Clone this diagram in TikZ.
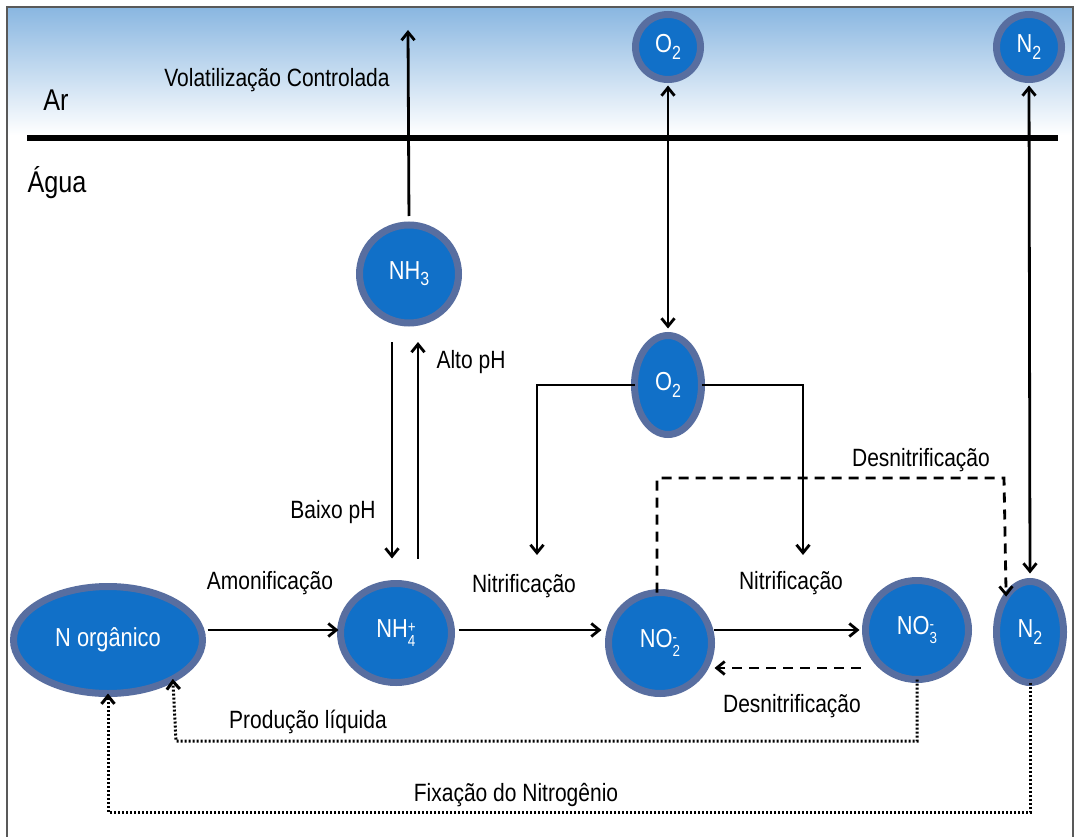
\documentclass[tikz,border=0pt]{standalone}
\usepackage{fontspec}
\setmainfont{Liberation Sans}[FakeStretch=0.84]
\usetikzlibrary{arrows.meta,shapes.geometric,calc}
\definecolor{nodefill}{RGB}{17,112,200}
\definecolor{nodeedge}{RGB}{88,110,160}
\definecolor{skytop}{RGB}{138,183,225}
\newcommand{\sbsp}[2]{\raisebox{-0.7ex}{\fontsize{16}{16}\selectfont\shortstack[l]{#2\\#1}}}
\newcommand{\sub}[1]{\raisebox{-0.45ex}{\fontsize{19}{19}\selectfont #1}}
\begin{document}
\begin{tikzpicture}[x=1pt,y=-1pt,
  mol/.style={ellipse,draw=nodeedge,line width=7pt,fill=nodefill,text=white,
    inner sep=0pt,outer sep=0pt,font=\fontsize{26}{30}\selectfont},
  lbl/.style={inner sep=0pt,font=\fontsize{25}{30}\selectfont},
  big/.style={inner sep=0pt,font=\fontsize{30}{34}\selectfont},
  tip/.style={-{Straight Barb[length=8pt,width=13pt]}},
  conn/.style={line width=2.8pt,tip},
  both/.style={line width=2.8pt,{Straight Barb[length=8pt,width=13pt]}-{Straight Barb[length=8pt,width=13pt]}},
  dsh/.style={line width=2.8pt,dash pattern=on 10pt off 7pt},
  dot/.style={line width=3pt,dash pattern=on 2pt off 2pt}
]
\useasboundingbox (0,0) rectangle (1078,837);
\fill[white] (0,0) rectangle (1078,837);
\shade[top color=skytop,bottom color=white] (8,8) rectangle (1072,135);
\draw[gray!70!black,line width=1.2pt] (7,845) -- (7,7) -- (1073,7) -- (1073,845);
\draw[line width=6pt] (27,138) -- (1058,138);

\node[big] (ar) at (56,100) {Ar};
\node[big] (agua) at (57,183) {Água};

% molecules
\node[mol,minimum width=65pt,minimum height=65pt] (o2a) at (668,47) {O\sub{2}};
\node[mol,minimum width=65pt,minimum height=65pt] (n2a) at (1029,47) {N\sub{2}};
\node[mol,minimum width=99pt,minimum height=98pt] (nh3) at (409,274) {NH\sub{3}};
\node[mol,minimum width=67pt,minimum height=99pt] (o2b) at (668,385) {O\sub{2}};
\node[mol,minimum width=189pt,minimum height=107pt] (norg) at (108,640) {N orgânico};
\node[mol,minimum width=111pt,minimum height=99pt] (nh4) at (396,633) {NH\sbsp{4}{+}};
\node[mol,minimum width=103pt,minimum height=101pt] (no2) at (660,643) {NO\sbsp{2}{-}};
\node[mol,minimum width=103pt,minimum height=99pt] (no3) at (917,630) {NO\sbsp{3}{-}};
\node[mol,minimum width=67pt,minimum height=101pt] (n2b) at (1030,632) {N\sub{2}};

% free ends
\coordinate (vol) at (408,30);
\coordinate (nitL) at (537,555);
\coordinate (nitR) at (803,555);
\coordinate (dnTop) at (1004,478);
\coordinate (pl) at (176,741);
\coordinate (fx) at (108,812);

% connectors
\draw[conn,shorten <=9pt] (nh3.north) -- (vol);
\draw[both,shorten <=6pt,shorten >=7pt] (o2a.south) -- (o2b.north);
\draw[both,shorten <=6pt,shorten >=8pt] (n2a.south) -- (n2b.north);
\draw[conn] (o2b.west) -| (nitL);
\draw[conn] (o2b.east) -| (nitR);
\draw[conn,shorten <=19pt,shorten >=25pt] ([xshift=-17pt]nh3.south) -- ([xshift=-4pt]nh4.north);
\draw[conn,shorten <=25pt,shorten >=19pt] ([xshift=22pt]nh4.north) -- ([xshift=9pt]nh3.south);
\draw[conn,shorten <=5pt,shorten >=2pt] ([yshift=10pt]norg.east) -- ([yshift=10pt]norg.east -| nh4.west);
\draw[conn,shorten <=7pt,shorten >=7pt] ([yshift=3pt]nh4.east) -- ([yshift=3pt]nh4.east -| no2.west);
\draw[conn,shorten <=2pt,shorten >=6pt] (no2.east |- no3.west) -- (no3.west);
\draw[dsh,tip,shorten <=5pt,shorten >=3pt] ([yshift=-38pt]no3.west) -- ([yshift=-38pt]no3.west -| no2.east);
\draw[dsh,tip] ([xshift=-3pt]no2.north) |- (dnTop) -- (n2b.124);
\draw[dot,tip] (no3.south) |- (pl) -- (norg.-31);
\draw[dot,tip] (n2b.south) |- (fx) -- (norg.south);

% labels
\node[lbl] (lvol) at (277,80) {Volatilização Controlada};
\node[lbl] (lalto) at (471,362) {Alto pH};
\node[lbl] (lbaixo) at (333,512) {Baixo pH};
\node[lbl] (lamon) at (270,583) {Amonificação};
\node[lbl] (lnit1) at (524,586) {Nitrificação};
\node[lbl] (lnit2) at (791,583) {Nitrificação};
\node[lbl] (ldes1) at (921,460) {Desnitrificação};
\node[lbl] (ldes2) at (792,706) {Desnitrificação};
\node[lbl] (lprod) at (308,722) {Produção líquida};
\node[lbl] (lfix) at (516,795) {Fixação do Nitrogênio};
\end{tikzpicture}
\end{document}
